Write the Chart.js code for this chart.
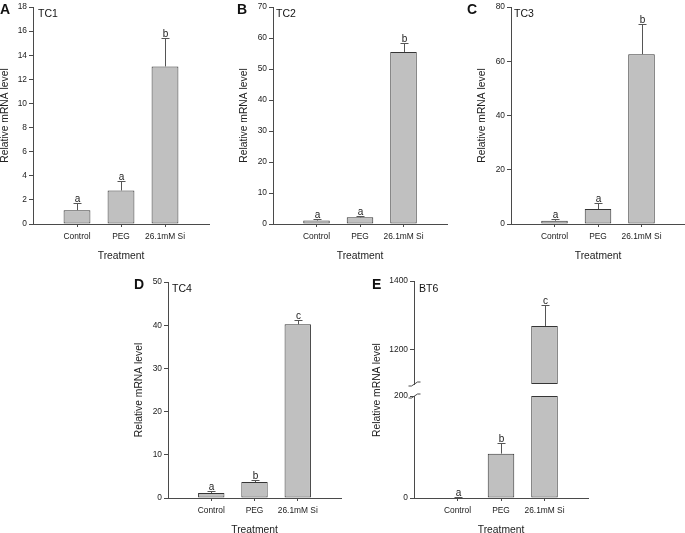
<!DOCTYPE html>
<html><head><meta charset="utf-8">
<script src="https://cdn.jsdelivr.net/npm/chart.js@4.4.1/dist/chart.umd.min.js"></script>
<style>
body{margin:0;background:#fff;}
#wrap{position:relative;width:685px;height:533px;overflow:hidden;background:#fff;font-family:"Liberation Sans",Arial,sans-serif;color:#111;}
canvas{position:absolute;}
.lbl{position:absolute;font-weight:bold;font-size:14px;line-height:14px;color:#111;}
.sub{position:absolute;font-size:10.5px;line-height:12px;color:#111;}
.ytitle{position:absolute;font-size:10.3px;color:#222;text-align:center;transform:rotate(-90deg);white-space:nowrap;}
</style></head><body><div id="wrap"></div>
<script>
// ---------- data ----------
const categories = ['Control', 'PEG', '26.1mM Si'];
const yTitle = 'Relative mRNA level';
const xTitle = 'Treatment';

const tc1Values = [1.15, 2.78, 13.07];
const tc1Errors = [0.57, 0.75, 2.4];
const tc1Letters = ['a', 'a', 'b'];

const tc2Values = [1.1, 2.15, 55.5];
const tc2Errors = [0.5, 0.55, 2.9];
const tc2Letters = ['a', 'a', 'b'];

const tc3Values = [1.2, 5.5, 62.6];
const tc3Errors = [0.65, 2.4, 11.2];
const tc3Letters = ['a', 'a', 'b'];

const tc4Values = [1.15, 3.7, 40.2];
const tc4Errors = [0.55, 0.5, 0.9];
const tc4Letters = ['a', 'b', 'c'];

const bt6Values = [1.2, 87, 1269];
const bt6Errors = [1.5, 20, 61];
const bt6Letters = ['a', 'b', 'c'];

const tc1Ticks = [0, 18, 2];   // min, max, step
const tc2Ticks = [0, 70, 10];
const tc3Ticks = [0, 80, 20];
const tc4Ticks = [0, 50, 10];
const bt6LowerTicks = [0, 200];
const bt6UpperTicks = [1200, 1400];
const bt6LowerRange = [0, 200];
const bt6UpperRange = [1100, 1400];

// ---------- drawing ----------
const FONT = "'Liberation Sans', Arial, sans-serif";
const wrap = document.getElementById('wrap');
const AXIS = '#4a4a4a';

const errPlugin = {
  id: 'errbars',
  afterDatasetsDraw(chart, args, o) {
    const ctx = chart.ctx, xs = chart.scales.x, ys = chart.scales.y;
    ctx.save();
    o.values.forEach((v, i) => {
      const top = v + o.errors[i];
      if (top < ys.min || top > ys.max || v > ys.max) return;
      const cx = Math.round(xs.getPixelForValue(i + 1)) + 0.5;
      const yv = ys.getPixelForValue(Math.max(v, ys.min));
      const ye = Math.round(ys.getPixelForValue(top)) + 0.5;
      ctx.strokeStyle = '#555';
      ctx.lineWidth = 1;
      ctx.beginPath();
      ctx.moveTo(cx, yv); ctx.lineTo(cx, ye);
      ctx.moveTo(cx - 4, ye); ctx.lineTo(cx + 4, ye);
      ctx.stroke();
      ctx.fillStyle = '#222';
      ctx.font = '10px ' + FONT;
      ctx.textAlign = 'center';
      ctx.textBaseline = 'alphabetic';
      ctx.fillText(o.letters[i], cx, ye - 2);
    });
    ctx.restore();
  }
};

const brkPlugin = {
  id: 'brk',
  afterDraw(chart, args, o) {
    if (!o.where) return;
    const ctx = chart.ctx, a = chart.chartArea;
    const x = a.left + 0.5;
    const y = o.where === 'bottom' ? a.bottom : a.top;
    ctx.save();
    ctx.strokeStyle = AXIS; ctx.lineWidth = 1;
    ctx.beginPath();
    ctx.moveTo(x - 6, y + 2);
    ctx.quadraticCurveTo(x - 3, y + 3, x, y);
    ctx.quadraticCurveTo(x + 3, y - 3, x + 6, y - 2);
    ctx.stroke();
    ctx.restore();
  }
};

function makePanel(p) {
  const yW = p.yW || 35;
  const xH = p.showX === false ? 0 : 38;
  const padTop = 10, padRight = 4;
  const padBottom = p.showX === false ? 10 : 0;
  const cLeft = p.axisX - yW;
  const cTop = p.yTop - padTop;
  const w = p.xEnd + padRight - cLeft;
  const h = p.yBot - p.yTop + padTop + xH + padBottom;
  const cv = document.createElement('canvas');
  cv.width = Math.round(w); cv.height = Math.round(h);
  cv.style.left = cLeft + 'px'; cv.style.top = cTop + 'px';
  cv.style.width = Math.round(w) + 'px'; cv.style.height = Math.round(h) + 'px';
  wrap.appendChild(cv);
  new Chart(cv, {
    type: 'bar',
    data: { datasets: [{
      data: p.data,
      backgroundColor: '#c0c0c0', borderColor: '#353535', borderWidth: 1,
      borderSkipped: false, barPercentage: 0.61, categoryPercentage: 1
    }]},
    options: {
      responsive: false, animation: false, devicePixelRatio: 1,
      layout: { padding: { left: 0, top: padTop, right: padRight, bottom: padBottom } },
      plugins: {
        legend: { display: false }, tooltip: { enabled: false },
        errbars: { values: p.values, errors: p.errors, letters: p.letters },
        brk: { where: p.brk || null }
      },
      scales: {
        x: {
          type: 'linear', min: 0, max: 4, offset: false, display: p.showX !== false,
          afterBuildTicks: s => { s.ticks = [1, 2, 3].map(v => ({ value: v })); },
          afterFit: s => { s.height = xH; },
          grid: { display: true, offset: false, drawOnChartArea: false, tickLength: 3, color: AXIS },
          border: { display: true, color: AXIS, width: 1 },
          ticks: { padding: 5, autoSkip: false, maxRotation: 0, color: '#222',
                   font: { family: FONT, size: 8.4 }, callback: v => categories[v - 1] },
          title: { display: true, text: xTitle, color: '#222', padding: 0,
                   font: { family: FONT, size: 10.3 } }
        },
        y: {
          min: p.min, max: p.max,
          afterBuildTicks: p.tickList ? (s => { s.ticks = p.tickList.map(v => ({ value: v })); }) : undefined,
          afterFit: s => { s.width = yW; },
          grid: { display: true, drawOnChartArea: false, tickLength: 4, color: AXIS },
          border: { display: true, color: AXIS, width: 1 },
          ticks: { stepSize: p.step, padding: 2, color: '#222', font: { family: FONT, size: 8.4 },
                   callback: v => String(v) },
          title: { display: p.showYTitle !== false, text: yTitle, color: '#222', padding: 0,
                   font: { family: FONT, size: 10.3 } }
        }
      }
    },
    plugins: [errPlugin, brkPlugin]
  });
}

function pts(values) { return values.map((v, i) => ({ x: i + 1, y: v })); }

makePanel({ axisX: 33, yTop: 7, yBot: 224, xEnd: 209, yW: 34, min: tc1Ticks[0], max: tc1Ticks[1], step: tc1Ticks[2],
  data: pts(tc1Values), values: tc1Values, errors: tc1Errors, letters: tc1Letters });
makePanel({ axisX: 273, yTop: 7, yBot: 224, xEnd: 447, min: tc2Ticks[0], max: tc2Ticks[1], step: tc2Ticks[2],
  data: pts(tc2Values), values: tc2Values, errors: tc2Errors, letters: tc2Letters });
makePanel({ axisX: 511, yTop: 7, yBot: 224, xEnd: 685, min: tc3Ticks[0], max: tc3Ticks[1], step: tc3Ticks[2],
  data: pts(tc3Values), values: tc3Values, errors: tc3Errors, letters: tc3Letters });
makePanel({ axisX: 168, yTop: 282, yBot: 498, xEnd: 341, min: tc4Ticks[0], max: tc4Ticks[1], step: tc4Ticks[2],
  data: pts(tc4Values), values: tc4Values, errors: tc4Errors, letters: tc4Letters });

// BT6 with broken axis: lower segment and upper segment
makePanel({ axisX: 414, yTop: 396, yBot: 498, xEnd: 588, yW: 40,
  min: bt6LowerRange[0], max: bt6LowerRange[1], tickList: bt6LowerTicks, showYTitle: false, brk: 'top',
  data: bt6Values.map((v, i) => ({ x: i + 1, y: Math.min(v, bt6LowerRange[1]) })),
  values: bt6Values, errors: bt6Errors, letters: bt6Letters });
makePanel({ axisX: 414, yTop: 281, yBot: 384, xEnd: 588, yW: 40, showX: false,
  min: bt6UpperRange[0], max: bt6UpperRange[1], tickList: bt6UpperTicks, showYTitle: false, brk: 'bottom',
  data: bt6Values.map((v, i) => (v > bt6UpperRange[0] ? { x: i + 1, y: [bt6UpperRange[0], v] } : { x: i + 1, y: null })),
  values: bt6Values, errors: bt6Errors, letters: bt6Letters });

// panel letters and gene names
function addText(cls, txt, left, top) {
  const d = document.createElement('div');
  d.className = cls; d.textContent = txt;
  d.style.left = left + 'px'; d.style.top = top + 'px';
  wrap.appendChild(d);
}
addText('lbl', 'A', 0, 2);   addText('sub', 'TC1', 38, 7);
addText('lbl', 'B', 237, 2); addText('sub', 'TC2', 276, 7);
addText('lbl', 'C', 467, 2); addText('sub', 'TC3', 514, 7);
addText('lbl', 'D', 134, 277); addText('sub', 'TC4', 172, 282);
addText('lbl', 'E', 372, 277); addText('sub', 'BT6', 419, 282);

const yt = document.createElement('div');
yt.className = 'ytitle'; yt.textContent = yTitle;
yt.style.width = '120px'; yt.style.height = '14px'; yt.style.lineHeight = '14px';
yt.style.left = (377 - 60) + 'px'; yt.style.top = (390 - 7) + 'px';
wrap.appendChild(yt);
</script>
</body></html>
